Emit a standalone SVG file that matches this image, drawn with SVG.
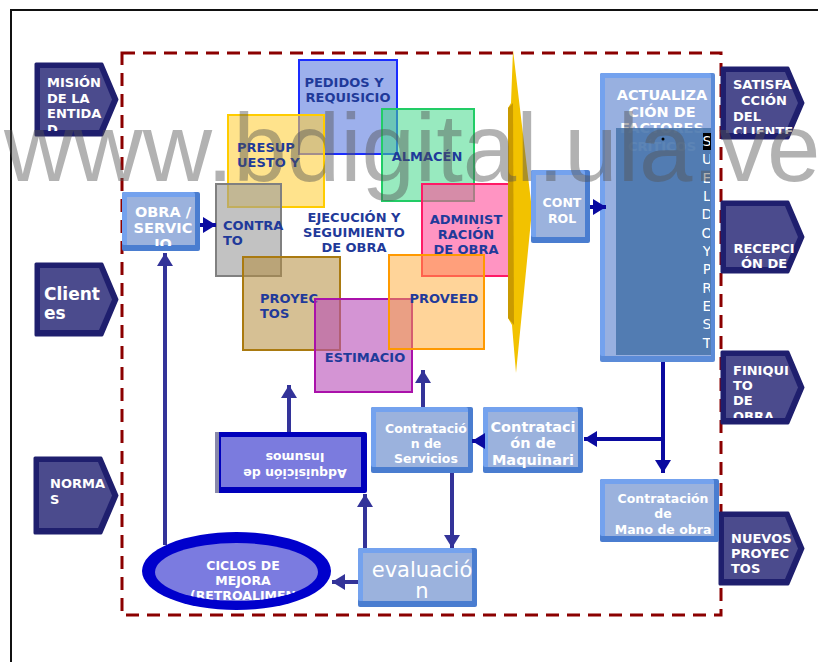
<svg xmlns="http://www.w3.org/2000/svg" width="818" height="662" viewBox="0 0 818 662">
<style>
.pw{font-family:"DejaVu Sans",Verdana,sans-serif;font-weight:bold;fill:#ffffff;font-size:13px}
.bt{font-family:"DejaVu Sans",Verdana,sans-serif;font-weight:bold;fill:#1f3a9a;font-size:13px}
.wt{font-family:"DejaVu Sans",Verdana,sans-serif;font-weight:bold;fill:#ffffff}
.po{fill:#1f1f6e;stroke:#1f1f6e;stroke-width:3;stroke-linejoin:round}
.pi{fill:#4b4b8d}
.bo{fill:#4a7dd0}
.bh{fill:#74a2ee}
.bi{fill:#9bb2dd}
.c1{fill:none;stroke:#333399;stroke-width:4}
.c2{fill:none;stroke:#0a0aa0;stroke-width:4}
</style>
<defs>
<marker id="ah1" markerUnits="userSpaceOnUse" markerWidth="14" markerHeight="16" refX="13" refY="8" orient="auto"><path d="M0,0 L13,8 L0,16 z" fill="#333399"/></marker>
<marker id="ah2" markerUnits="userSpaceOnUse" markerWidth="14" markerHeight="16" refX="13" refY="8" orient="auto"><path d="M0,0 L13,8 L0,16 z" fill="#0a0aa0"/></marker>
<clipPath id="cMis"><rect x="36" y="64" width="70" height="67"/></clipPath>
<clipPath id="cSat"><rect x="722" y="68" width="80" height="66"/></clipPath>
<clipPath id="cFin"><rect x="722" y="352" width="80" height="66"/></clipPath>
<clipPath id="cObra"><rect x="122" y="192" width="78" height="54"/></clipPath>
<clipPath id="cCic"><ellipse cx="236.5" cy="572" rx="81.5" ry="29"/></clipPath>
<clipPath id="cVert"><rect x="690" y="120" width="20" height="240"/></clipPath>
</defs>

<!-- frame -->
<path d="M11,662 V10 H818" fill="none" stroke="#111" stroke-width="2"/>
<rect x="122" y="53" width="599" height="562" fill="none" stroke="#8b0000" stroke-width="3" stroke-dasharray="13 8"/>

<!-- left pentagons -->
<g id="mision">
<polygon class="po" points="36,64 102,64 117,99.5 102,135 36,135"/>
<polygon class="pi" points="40,68 99,68 112,99.5 99,130 40,130"/>
<g clip-path="url(#cMis)"><text class="pw" x="47" y="87">MISIÓN</text><text class="pw" x="47" y="103">DE LA</text><text class="pw" x="47" y="118">ENTIDA</text><text class="pw" x="47" y="134">D</text></g>
</g>
<g id="clientes">
<polygon class="po" points="36,264 102,264 117,299.5 102,335 36,335"/>
<polygon class="pi" points="40,268 99,268 112,299.5 99,330 40,330"/>
<text class="wt" x="44" y="300" font-size="17">Client</text><text class="wt" x="44" y="319" font-size="17">es</text>
</g>
<g id="normas">
<polygon class="po" points="35,458 101,458 117,495.5 101,533 35,533"/>
<polygon class="pi" points="39,462 98,462 112,495.5 98,528 39,528"/>
<text class="pw" x="50" y="488">NORMA</text><text class="pw" x="50" y="504">S</text>
</g>

<!-- right pentagons -->
<g id="satisfaccion">
<polygon class="po" points="722,68 788,68 803,103 788,138 722,138"/>
<polygon class="pi" points="726,72 785,72 798,103 785,133 726,133"/>
<g clip-path="url(#cSat)"><text class="pw" x="733" y="89">SATISFA</text><text class="pw" x="764" y="105" text-anchor="middle">CCIÓN</text><text class="pw" x="733" y="121">DEL</text><text class="pw" x="733" y="136">CLIENTE</text></g>
</g>
<g id="recepcion">
<polygon class="po" points="722,202 788,202 803,237 788,272 722,272"/>
<polygon class="pi" points="726,206 785,206 798,237 785,267 726,267"/>
<text class="pw" x="764" y="253" text-anchor="middle">RECEPCI</text><text class="pw" x="764" y="268" text-anchor="middle">ÓN DE</text>
</g>
<g id="finiquito">
<polygon class="po" points="722,352 788,352 803,387.5 788,423 722,423"/>
<polygon class="pi" points="726,356 785,356 798,387.5 785,418 726,418"/>
<g clip-path="url(#cFin)"><text class="pw" x="733" y="375">FINIQUI</text><text class="pw" x="733" y="390">TO</text><text class="pw" x="733" y="405">DE</text><text class="pw" x="733" y="421">OBRA</text></g>
</g>
<g id="nuevos">
<polygon class="po" points="720,513 788,513 803,548.5 788,584 720,584"/>
<polygon class="pi" points="724,517 785,517 798,548.5 785,579 724,579"/>
<text class="pw" x="731" y="543">NUEVOS</text><text class="pw" x="731" y="558">PROYEC</text><text class="pw" x="731" y="573">TOS</text>
</g>

<!-- obra / servicio -->
<g id="obra">
<rect class="bo" x="122" y="192" width="78" height="59" rx="2"/><rect class="bh" x="122" y="192" width="73" height="53" rx="2"/><rect class="bi" x="127" y="197" width="68" height="48"/>
<g clip-path="url(#cObra)"><text class="wt" font-size="14.5" x="163" y="217" text-anchor="middle">OBRA /</text><text class="wt" font-size="14.5" x="163" y="233" text-anchor="middle">SERVIC</text><text class="wt" font-size="14.5" x="163" y="249" text-anchor="middle">IO</text></g>
</g>

<!-- overlapping squares -->
<g id="pedidos">
<rect x="299" y="60" width="98" height="94" fill="#5b7be0" fill-opacity="0.6" stroke="#1a2cff" stroke-width="2"/>
<text class="bt" x="344" y="87" text-anchor="middle">PEDIDOS Y</text><text class="bt" x="348" y="102" text-anchor="middle">REQUISICIO</text>
</g>
<g id="presupuesto">
<rect x="228" y="115" width="96" height="92" fill="#ffd040" fill-opacity="0.6" stroke="#ffcc00" stroke-width="2"/>
<text class="bt" x="237" y="152">PRESUP</text><text class="bt" x="237" y="167">UESTO Y</text>
</g>
<g id="almacen">
<rect x="382" y="109" width="92" height="92" fill="#44d88a" fill-opacity="0.55" stroke="#22cc66" stroke-width="2"/>
<text class="bt" x="427" y="161" text-anchor="middle">ALMACÉN</text>
</g>
<g id="contrato">
<rect x="216" y="184" width="65" height="92" fill="#999999" fill-opacity="0.6" stroke="#808080" stroke-width="2"/>
<text class="bt" x="223" y="230">CONTRA</text><text class="bt" x="223" y="245">TO</text>
</g>
<g id="administracion">
<rect x="422" y="184" width="90" height="92" fill="#ff4c99" fill-opacity="0.6" stroke="#ff1a66" stroke-width="2"/>
<text class="bt" x="466" y="224" text-anchor="middle">ADMINIST</text><text class="bt" x="466" y="239" text-anchor="middle">RACIÓN</text><text class="bt" x="466" y="254" text-anchor="middle">DE OBRA</text>
</g>
<g id="ejecucion">
<text class="bt" x="354" y="222" text-anchor="middle">EJECUCIÓN Y</text><text class="bt" x="354" y="237" text-anchor="middle">SEGUIMIENTO</text><text class="bt" x="354" y="252" text-anchor="middle">DE  OBRA</text>
</g>
<g id="proyectos">
<rect x="243" y="257" width="97" height="93" fill="#b48c3c" fill-opacity="0.55" stroke="#aa7a10" stroke-width="2"/>
<text class="bt" x="260" y="303">PROYEC</text><text class="bt" x="260" y="318">TOS</text>
</g>
<g id="estimaciones">
<rect x="315" y="299" width="97" height="93" fill="#b84cb8" fill-opacity="0.6" stroke="#aa11aa" stroke-width="2"/>
<text class="bt" x="365" y="362" text-anchor="middle">ESTIMACIO</text>
</g>
<g id="proveedores">
<rect x="389" y="255" width="95" height="94" fill="#ffaa33" fill-opacity="0.5" stroke="#ff9900" stroke-width="2"/>
<text class="bt" x="444" y="303" text-anchor="middle">PROVEED</text>
</g>

<!-- yellow chevron -->
<g id="chevron">
<polygon points="513,50 532,210 516,373 512,325 508,318 508,108 511,103" fill="#f2c200"/>
<polygon points="508,108 513,103 514,325 508,318" fill="#c99a00"/>
</g>

<!-- control -->
<g id="control">
<rect class="bo" x="531" y="170" width="59" height="73" rx="2"/><rect class="bh" x="531" y="170" width="54" height="67" rx="2"/><rect class="bi" x="536" y="175" width="49" height="62"/>
<text class="wt" font-size="12.5" x="562" y="207" text-anchor="middle">CONT</text><text class="wt" font-size="12.5" x="562" y="223" text-anchor="middle">ROL</text>
</g>

<!-- actualizacion -->
<g id="actualizacion">
<rect x="600" y="73" width="115" height="289" rx="2" fill="#5b8bd8"/>
<rect x="600" y="73" width="111" height="283" rx="2" fill="#74a2ee"/>
<rect x="605" y="78" width="106" height="278" fill="#98b0e0"/>
<text class="wt" font-size="14.5" x="662" y="100" text-anchor="middle">ACTUALIZA</text>
<text class="wt" font-size="14.5" x="662" y="117" text-anchor="middle">CIÓN DE</text>
<text class="wt" font-size="14.5" x="662" y="133" text-anchor="middle">FACTORES</text>
<text class="wt" font-size="13" x="662" y="151" text-anchor="middle">CRÍTICOS</text>
<rect x="616" y="128" width="95" height="227" fill="#4a77ad" fill-opacity="0.9"/>
<rect x="703" y="133" width="8" height="17" fill="#000"/>
<circle cx="663" cy="139" r="1.5" fill="#000"/>
<g clip-path="url(#cVert)" font-family="'DejaVu Sans',Verdana,sans-serif" font-size="14" fill="#ffffff" text-anchor="middle">
<text x="707" y="146">S</text><text x="707" y="164">U</text><text x="707" y="183">E</text><text x="707" y="201">L</text><text x="707" y="219">D</text><text x="707" y="238">O</text><text x="707" y="256">Y</text><text x="707" y="274">P</text><text x="707" y="293">R</text><text x="707" y="311">E</text><text x="707" y="329">S</text><text x="707" y="348">T</text>
</g>
</g>

<!-- lower boxes -->
<g id="maquinaria">
<rect class="bo" x="483" y="407" width="100" height="66" rx="2"/><rect class="bh" x="483" y="407" width="95" height="60" rx="2"/><rect class="bi" x="488" y="412" width="90" height="55"/>
<text class="wt" font-size="14.5" x="533" y="432" text-anchor="middle">Contrataci</text><text class="wt" font-size="14.5" x="533" y="448" text-anchor="middle">ón de</text><text class="wt" font-size="14.5" x="533" y="465" text-anchor="middle">Maquinari</text>
</g>
<g id="servicios">
<rect class="bo" x="371" y="407" width="102" height="66" rx="2"/><rect class="bh" x="371" y="407" width="97" height="60" rx="2"/><rect class="bi" x="376" y="412" width="92" height="55"/>
<text class="wt" font-size="12.5" x="426" y="433" text-anchor="middle">Contratació</text><text class="wt" font-size="12.5" x="426" y="448" text-anchor="middle">n de</text><text class="wt" font-size="12.5" x="426" y="463" text-anchor="middle">Servicios</text>
</g>
<g id="manodeobra">
<rect class="bo" x="600" y="479" width="119" height="63" rx="2"/><rect class="bh" x="600" y="479" width="114" height="57" rx="2"/><rect class="bi" x="605" y="484" width="109" height="52"/>
<text class="wt" font-size="12.5" x="663" y="503" text-anchor="middle">Contratación</text><text class="wt" font-size="12.5" x="663" y="518" text-anchor="middle">de</text><text class="wt" font-size="12.5" x="663" y="534" text-anchor="middle">Mano de obra</text>
</g>
<g id="evaluacion">
<rect class="bo" x="358" y="548" width="119" height="59" rx="2"/><rect class="bh" x="358" y="548" width="114" height="53" rx="2"/><rect class="bi" x="363" y="553" width="109" height="48"/>
<text x="422" y="577" text-anchor="middle" font-family="'DejaVu Sans',Verdana,sans-serif" font-size="21" fill="#ffffff">evaluació</text><text x="422" y="598" text-anchor="middle" font-family="'DejaVu Sans',Verdana,sans-serif" font-size="21" fill="#ffffff">n</text>
</g>
<g id="adquisicion">
<rect x="215" y="432" width="152" height="61" fill="#0000bb" rx="2"/>
<rect x="215" y="432" width="4" height="61" fill="#8888aa"/>
<rect x="221" y="437" width="140" height="50" fill="#7b7bde"/>
<g transform="rotate(180 295 465)"><text class="wt" font-size="12.5" x="295" y="461" text-anchor="middle">Adquisición de</text><text class="wt" font-size="12.5" x="295" y="477" text-anchor="middle">Insumos</text></g>
</g>
<g id="ciclos">
<ellipse cx="236.5" cy="571" rx="94.5" ry="39" fill="#0000cc"/>
<ellipse cx="236.5" cy="572" rx="81.5" ry="29" fill="#7b7be0"/>
<g clip-path="url(#cCic)"><text class="wt" font-size="12.5" x="243" y="570" text-anchor="middle">CICLOS DE</text><text class="wt" font-size="12.5" x="243" y="585" text-anchor="middle">MEJORA</text><text class="wt" font-size="12.5" x="243" y="600" text-anchor="middle">(RETROALIMEN</text></g>
</g>

<!-- connectors -->
<g id="connectors">
<path class="c1" d="M165,545 V253" marker-end="url(#ah1)"/>
<path class="c2" d="M200,225 H216" stroke-width="3" marker-end="url(#ah2)"/>
<path class="c2" d="M590,207 H606" stroke-width="3" marker-end="url(#ah2)"/>
<path class="c2" d="M663,362 V473" marker-end="url(#ah2)"/>
<path class="c2" d="M663,439 H584" marker-end="url(#ah2)"/>
<path class="c2" d="M483,441 H472" stroke-width="3" marker-end="url(#ah2)"/>
<path class="c1" d="M423,407 V370" marker-end="url(#ah1)"/>
<path class="c1" d="M452,473 V548" marker-end="url(#ah1)"/>
<path class="c1" d="M365,548 V494" marker-end="url(#ah1)"/>
<path class="c1" d="M289,432 V385" marker-end="url(#ah1)"/>
<path class="c1" d="M358,582 H332" marker-end="url(#ah1)"/>
</g>

<!-- watermark -->
<text x="4" y="181" font-family="'Liberation Sans',Arial,sans-serif" font-size="96" fill="#555555" fill-opacity="0.45">www.bdigital.ula.ve</text>
</svg>
